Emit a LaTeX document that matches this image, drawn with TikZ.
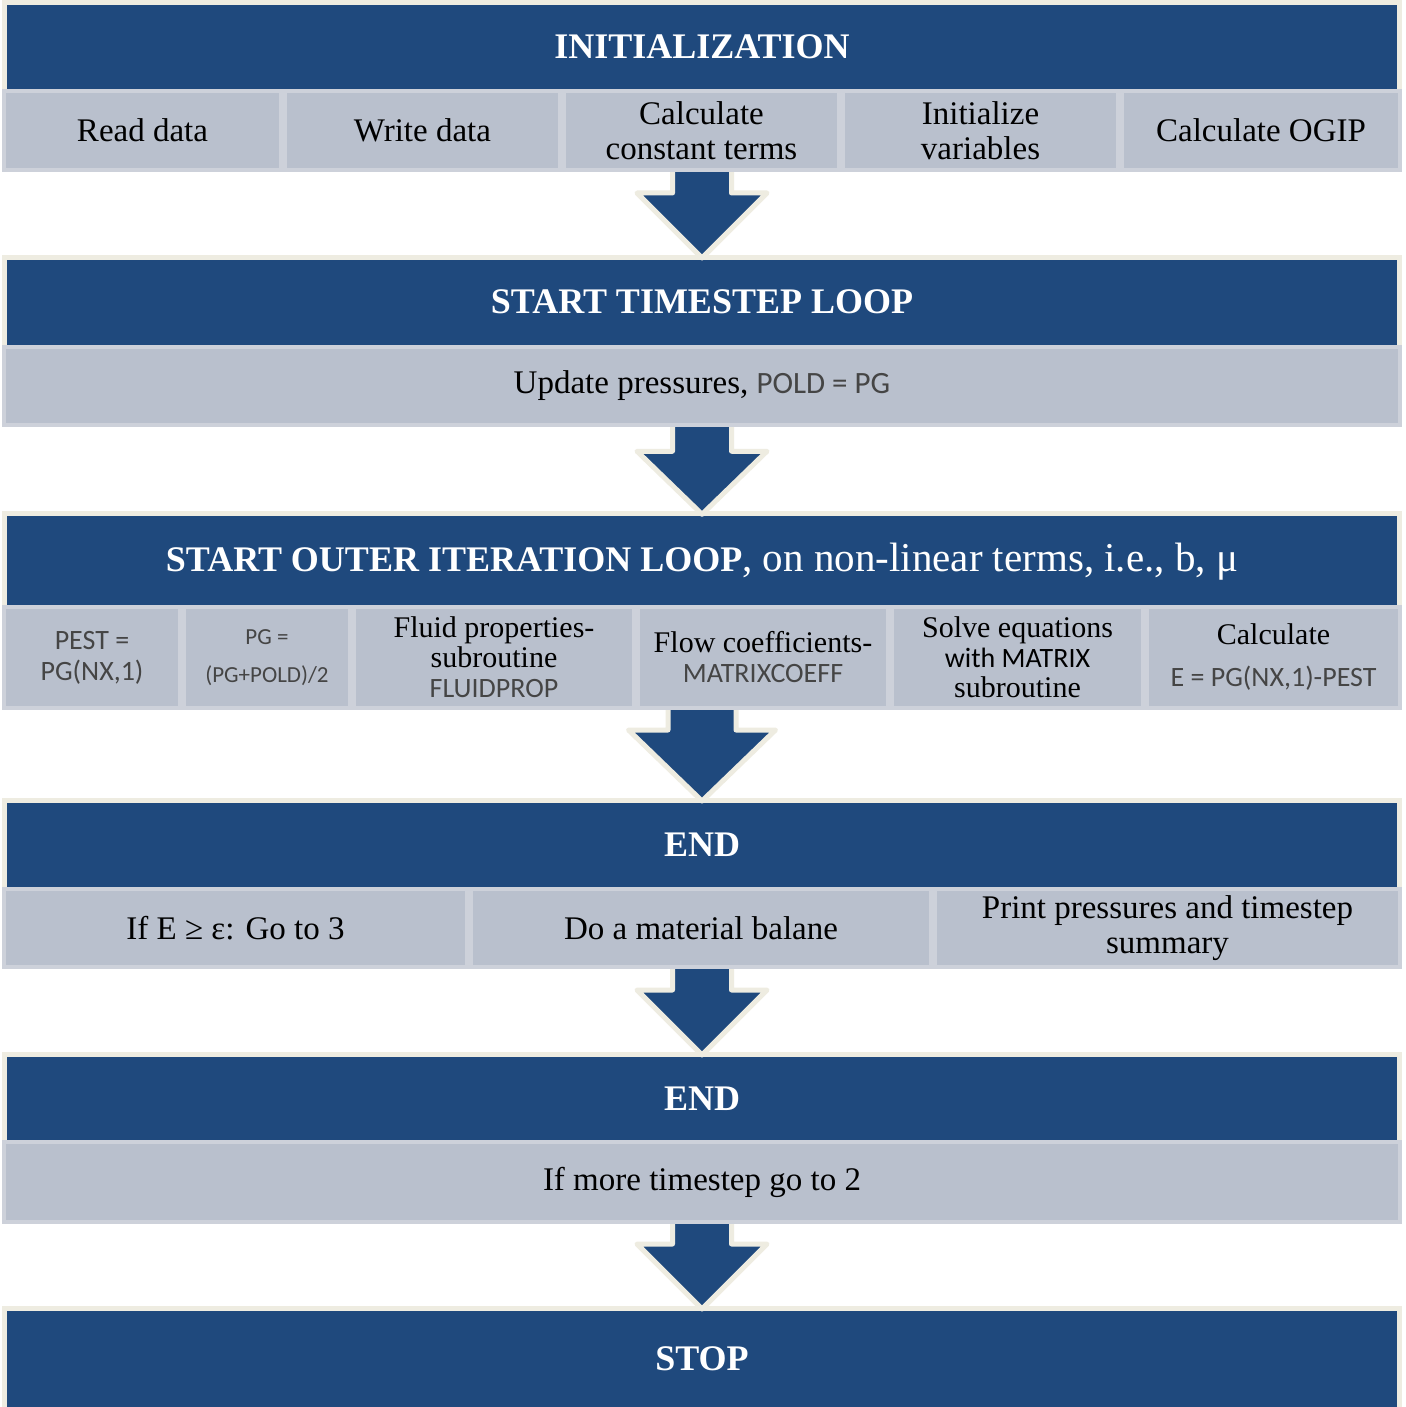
\documentclass[tikz,border=0pt]{standalone}
\usepackage{fontspec}
\setmainfont{Liberation Serif}
\newfontfamily\calibri{Carlito}
\usetikzlibrary{calc}
\definecolor{hblue}{HTML}{1F497D}
\definecolor{cream}{HTML}{EEECE1}
\definecolor{cellfill}{HTML}{B9C0CD}
\definecolor{cellline}{HTML}{CDD1DA}
\definecolor{txtgray}{HTML}{454545}
\pgfdeclarelayer{bottom}
\pgfdeclarelayer{back}
\pgfdeclarelayer{mid}
\pgfsetlayers{bottom,back,mid,main}
\newcommand\gr[1]{{\calibri\color{txtgray}#1}}
\newcommand\barrowdraw[5]{%
  \draw[barrow] let \p1=(#1.south), \p2=(#2.north) in
   (\x2-#3pt,\y1+6pt) -- (\x2-#3pt,\y2-3pt+#5pt) -- (\x2-#4pt,\y2-3pt+#5pt)
   -- (\x2,\y2-3pt) -- (\x2+#4pt,\y2-3pt+#5pt) -- (\x2+#3pt,\y2-3pt+#5pt)
   -- (\x2+#3pt,\y1+6pt) -- cycle;}
\begin{document}
\begin{tikzpicture}[x=1pt,y=-1pt,
  hdr/.style={rectangle, fill=hblue, draw=cream, line width=5pt, minimum width=1395pt,
    inner sep=0pt, text=white, font=\fontsize{36}{40}\selectfont\bfseries},
  cell/.style={rectangle, fill=cellfill, draw=cellline, line width=4pt, inner sep=0pt,
    align=center, font=\fontsize{33}{35}\selectfont},
  cellthree/.style={cell, minimum height=101pt, font=\fontsize{30}{30}\selectfont},
  barrow/.style={fill=hblue, draw=cream, line width=5pt, line join=round}]
\useasboundingbox (0,0) rectangle (1405,1407);
\begin{pgfonlayer}{bottom}
\fill[white] (0,0) rectangle (1405,1407);
\end{pgfonlayer}

\begin{pgfonlayer}{back}
\node[hdr, minimum height=89.5pt] (h1) at (702,47.25) {INITIALIZATION};
\node[hdr, minimum height=89.5pt] (h2) at (702,302.25) {START TIMESTEP LOOP};
\node[hdr, minimum height=94.5pt, text height=27pt, text depth=6pt] (h3) at (702,561) {START OUTER ITERATION LOOP{\mdseries\fontsize{41}{42}\selectfont, on non-linear terms, i.e., b, μ}};
\node[hdr, minimum height=88.5pt] (h4) at (702,844.75) {END};
\node[hdr, minimum height=87.5pt] (h5) at (702,1098.25) {END};
\node[hdr, minimum height=101pt] (h6) at (702,1359) {STOP};
\end{pgfonlayer}

% row 1
\node[cell, minimum width=277pt, minimum height=79pt] (r1c1) at (142.5,130.5) {Read data};
\node[cell, minimum width=275pt, minimum height=79pt] (r1c2) at (422.5,130.5) {Write data};
\node[cell, minimum width=275pt, minimum height=79pt] (r1c3) at (701.5,130.5) {Calculate\\constant terms};
\node[cell, minimum width=275pt, minimum height=79pt] (r1c4) at (980.5,130.5) {Initialize\\variables};
\node[cell, minimum width=278pt, minimum height=79pt] (r1c5) at (1261,130.5) {Calculate OGIP};

% row 2
\node[cell, minimum width=1396pt, minimum height=78pt] (r2) at (702,386) {Update pressures, \gr{\fontsize{31}{35}\selectfont POLD = PG}};

% row 3
\node[cellthree, minimum width=176pt, font=\fontsize{28}{31}\selectfont] (r3c1) at (92,657.5) {\gr{PEST =}\\\gr{PG(NX,1)}};
\node[cellthree, minimum width=166pt, font=\fontsize{23}{38}\selectfont] (r3c2) at (267,657.5) {\gr{PG =}\\\gr{(PG+POLD)/2}};
\node[cellthree, minimum width=280pt] (r3c3) at (494,657.5) {Fluid properties-\\subroutine\\\gr{\fontsize{28}{30}\selectfont FLUIDPROP}};
\node[cellthree, minimum width=250pt] (r3c4) at (763,657.5) {Flow coefficients-\\\gr{\fontsize{28}{30}\selectfont MATRIXCOEFF}};
\node[cellthree, minimum width=251pt] (r3c5) at (1017.5,657.5) {Solve equations\\{\calibri\fontsize{28}{30}\selectfont with MATRIX}\\subroutine};
\node[cellthree, minimum width=253pt] (r3c6) at (1273.5,657.5) {Calculate\\[12pt]\gr{\fontsize{28}{30}\selectfont E = PG(NX,1)-PEST}};

% row 4
\node[cell, minimum width=463pt, minimum height=78pt] (r4c1) at (235.5,928) {If E ≥ ε: Go to 3};
\node[cell, minimum width=460pt, minimum height=78pt] (r4c2) at (701,928) {Do a material balane};
\node[cell, minimum width=465pt, minimum height=78pt] (r4c3) at (1167.5,928) {Print pressures and timestep\\summary};

% row 5
\node[cell, minimum width=1396pt, minimum height=80pt] (r5) at (702,1182) {If more timestep go to 2};

% block arrows
\begin{pgfonlayer}{mid}
\barrowdraw{r1c3}{h2}{29.5}{65}{65}
\barrowdraw{r2}{h3}{29.5}{65}{63}
\barrowdraw{r3c4}{h4}{34}{73.5}{71}
\barrowdraw{r4c2}{h5}{29.5}{65}{65}
\barrowdraw{r5}{h6}{29.5}{65}{65}
\end{pgfonlayer}
\end{tikzpicture}
\end{document}
